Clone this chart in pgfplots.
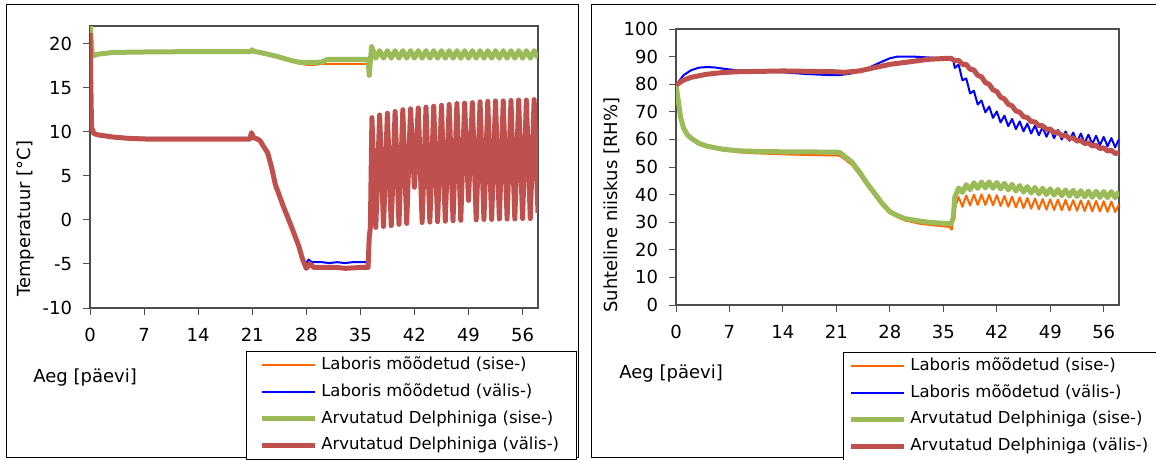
\documentclass[border=0pt]{standalone}
\usepackage{fontspec}
\setmainfont{DejaVu Sans}
\usepackage{pgfplots}
\pgfplotsset{compat=1.18}

\definecolor{measin}{RGB}{255,102,0}
\definecolor{measout}{RGB}{0,0,255}
\definecolor{simin}{RGB}{155,187,89}
\definecolor{simout}{RGB}{192,80,77}
\definecolor{axisgray}{RGB}{77,77,77}

\pgfplotsset{
  panel/.style={
    scale only axis,
    xmin=0, xmax=58,
    xtick={0,7,14,21,28,35,42,49,56},
    xticklabels={0,7,14,21,28,35,42,49,56},
    tick align=outside,
    tick pos=left,
    major tick length=7pt,
    axis line style={draw=axisgray, line width=1.2pt},
    major tick style={draw=axisgray, line width=1pt},
    tick label style={font=\fontsize{18}{22}\selectfont},
    label style={font=\fontsize{18}{22}\selectfont},
    xticklabel shift=10pt,
    yticklabel shift=7.5pt,
    xlabel={Aeg [päevi]},
    xlabel style={at={(axis description cs:-0.011,-0.248)}, anchor=center},
    legend style={anchor=north west, draw=black, line width=0.8pt,
      font=\fontsize{16.5}{19}\selectfont, inner ysep=2.25pt, row sep=3.2pt,
      nodes={inner sep=3.5pt, text height=12.5pt, text depth=4pt},
      cells={anchor=west}},
    legend image code/.code={\draw[#1] (0pt,0pt) -- (53pt,0pt);},
  },
  lin/.style={color=measin, line width=2pt, line join=round},
  lout/.style={color=measout, line width=2pt, line join=round},
  sin/.style={color=simin, line width=5pt, line join=round},
  sout/.style={color=simout, line width=5pt, line join=round},
}

\begin{document}
\begin{tikzpicture}[x=1pt,y=1pt]
\path[use as bounding box] (0,0) rectangle (1156,459);
\clip (0,0) rectangle (1156,459);
\draw[black, line width=1pt] (6,2) rectangle (578,454);
\draw[black, line width=1pt] (591,2) rectangle (1170,454);

% left: temperature
\begin{axis}[panel,
  at={(90pt,151pt)}, anchor=south west, width=448pt, height=282pt,
  ymin=-10, ymax=22,
  ytick={-10,-5,0,5,10,15,20},
  yticklabels={-10,-5,0,5,10,15,20},
  ylabel={Temperatuur [°C]},
  ylabel style={at={(axis description cs:-0.143,0.316)}, anchor=center},
  legend style={at={(axis description cs:0.348,-0.1525)}, inner xsep=13.5pt},
]
\addplot[lin] coordinates {
(0,20.5) (0.3,18.8) (1,18.9) (3,19.0) (7,19.1) (14,19.1) (20.8,19.1) (21,19.25) (21.3,19.1)
(22,19.0) (24,18.6) (26,18.1) (27,17.75) (28,17.6) (29,17.6) (30,17.7) (32,17.7) (34,17.7)
(36,17.7) (36.2,17.6) (36.5,19.0)
(37,18.5) (37.5,19.0) (38,18.5) (38.5,19.0) (39,18.5) (39.5,19.0) (40,18.5) (40.5,19.0)
(41,18.5) (41.5,19.0) (42,18.5) (42.5,19.0) (43,18.5) (43.5,19.0) (44,18.5) (44.5,19.0)
(45,18.5) (45.5,19.0) (46,18.5) (46.5,19.0) (47,18.5) (47.5,19.0) (48,18.5) (48.5,19.0)
(49,18.5) (49.5,19.0) (50,18.5) (50.5,19.0) (51,18.5) (51.5,19.0) (52,18.5) (52.5,19.0)
(53,18.5) (53.5,19.0) (54,18.5) (54.5,19.0) (55,18.5) (55.5,19.0) (56,18.5) (56.5,19.0)
(57,18.5) (57.5,19.0) (58,18.55)
};
\addlegendentry{Laboris mõõdetud (sise-)}
\addplot[lout] coordinates {
(0,12.5) (0.2,10.2) (0.5,9.8) (1,9.7) (3,9.4) (5,9.3) (8,9.3) (14,9.3) (20.7,9.3) (21,9.5)
(21.5,9.3) (22,9.0) (22.5,8.3) (23,7.6) (23.5,6.0) (24,4.0) (25,1.6) (26,-0.6) (27,-2.9)
(27.5,-4.3) (28,-4.9) (28.3,-4.5) (28.7,-4.8) (30,-4.8) (31,-4.9) (32,-4.8) (33,-4.9)
(34,-4.8) (35,-4.8) (36,-4.8) (36.15,-2.0) (36.3,-0.5) (36.5,11.3)
(37,-0.55) (37.5,11.6) (38,-0.45) (38.5,11.8) (39,-0.35) (39.5,12.0) (40,-0.2) (40.5,12.2)
(41,-0.1) (41.5,12.3) (42,3.9) (42.5,12.4) (43,0.0) (43.5,12.5) (44,0.05) (44.5,12.6)
(45,0.1) (45.5,12.7) (46,0.15) (46.5,12.8) (47,0.2) (47.5,12.9) (48,0.25) (48.5,12.95)
(49,2.4) (49.5,13.0) (50,0.3) (50.5,13.1) (51,0.35) (51.5,13.15) (52,0.35) (52.5,13.2)
(53,0.4) (53.5,13.2) (54,0.4) (54.5,13.25) (55,0.4) (55.5,13.3) (56,0.45) (56.5,13.3)
(57,0.45) (57.5,13.35) (58,1.0)
};
\addlegendentry{Laboris mõõdetud (välis-)}
\addplot[sin] coordinates {
(0,22.5) (0.3,18.6) (1,18.8) (3,19.0) (7,19.05) (14,19.1) (20.8,19.1) (21,19.3) (21.3,19.1)
(22,19.0) (24,18.6) (26,18.1) (27,17.9) (28,17.85) (30,17.9) (30.7,18.2) (36,18.2)
(36.15,16.4) (36.45,19.7)
(37,18.35) (37.5,19.2) (38,18.35) (38.5,19.2) (39,18.35) (39.5,19.2) (40,18.35) (40.5,19.2)
(41,18.35) (41.5,19.2) (42,18.35) (42.5,19.2) (43,18.35) (43.5,19.2) (44,18.35) (44.5,19.2)
(45,18.35) (45.5,19.2) (46,18.35) (46.5,19.2) (47,18.35) (47.5,19.2) (48,18.35) (48.5,19.2)
(49,18.35) (49.5,19.2) (50,18.35) (50.5,19.2) (51,18.35) (51.5,19.2) (52,18.35) (52.5,19.2)
(53,18.35) (53.5,19.2) (54,18.35) (54.5,19.2) (55,18.35) (55.5,19.2) (56,18.35) (56.5,19.2)
(57,18.35) (57.5,19.2) (58,18.4)
};
\addlegendentry{Arvutatud Delphiniga (sise-)}
\addplot[sout] coordinates {
(0,21.2) (0.2,10.5) (0.5,9.8) (1,9.65) (3,9.4) (5,9.25) (8,9.15) (14,9.15) (20.7,9.15)
(20.9,9.9) (21.2,9.3) (21.6,9.2) (22,9.0) (22.5,8.3) (23,7.6) (23.5,6.0) (24,4.0) (25,1.6)
(26,-0.6) (27,-2.9) (27.5,-4.4) (28,-5.5) (28.5,-5.0) (29,-5.4) (32,-5.4) (33,-5.5)
(35,-5.4) (36,-5.4) (36.15,-2.0) (36.3,-0.8) (36.5,11.6)
(37,-0.85) (37.5,11.9) (38,-0.75) (38.5,12.1) (39,-0.65) (39.5,12.3) (40,-0.5) (40.5,12.5)
(41,-0.4) (41.5,12.6) (42,3.7) (42.5,12.7) (43,-0.3) (43.5,12.8) (44,-0.25) (44.5,12.9)
(45,-0.2) (45.5,13.0) (46,-0.15) (46.5,13.1) (47,-0.1) (47.5,13.2) (48,-0.05) (48.5,13.25)
(49,2.2) (49.5,13.3) (50,0.0) (50.5,13.4) (51,0.05) (51.5,13.45) (52,0.05) (52.5,13.5)
(53,0.1) (53.5,13.5) (54,0.1) (54.5,13.55) (55,0.1) (55.5,13.6) (56,0.15) (56.5,13.6)
(57,0.15) (57.5,13.65) (58,0.8)
};
\addlegendentry{Arvutatud Delphiniga (välis-)}
\end{axis}

% right: relative humidity
\begin{axis}[panel,
  at={(676pt,154pt)}, anchor=south west, width=443pt, height=276pt,
  ymin=0, ymax=100,
  ytick={0,10,...,100},
  yticklabels={0,10,20,30,40,50,60,70,80,90,100},
  ylabel={Suhteline niiskus [RH\%]},
  ylabel style={at={(axis description cs:-0.1445,0.362)}, anchor=center},
  legend style={at={(axis description cs:0.377,-0.170)}, inner xsep=5.5pt},
]
\addplot[lin] coordinates {
(0,79.7) (0.5,70) (1,63.8) (1.5,61.2) (2,60) (3,58.2) (4,57.2) (6,56.1) (8,55.4) (10,55.0)
(14,54.6) (18,54.3) (21,54.2) (21.5,54.0) (22,53.0) (23,50.8) (24,47.3) (25,43.3) (26,39.6)
(27,36.1) (28,33.2) (29,31.8) (30,30.6) (32,29.4) (34,28.8) (35.8,28.3) (36.1,27.3)
(36.3,33) (36.5,35.0)
(37,39.1) (37.5,35.6) (38,39.7) (38.5,36.05) (39,40.0) (39.5,36.25) (40,40.1) (40.5,36.25)
(41,40.0) (41.5,36.1) (42,39.8) (42.5,35.85) (43,39.5) (43.5,35.6) (44,39.3) (44.5,35.35)
(45,39.0) (45.5,35.1) (46,38.8) (46.5,34.9) (47,38.6) (47.5,34.7) (48,38.4) (48.5,34.55)
(49,38.3) (49.5,34.45) (50,38.2) (50.5,34.35) (51,38.1) (51.5,34.25) (52,38.0) (52.5,34.15)
(53,37.9) (53.5,34.05) (54,37.8) (54.5,33.95) (55,37.7) (55.5,33.85) (56,37.6) (56.5,33.75)
(57,37.5) (57.5,33.7) (58,36.5)
};
\addlegendentry{Laboris mõõdetud (sise-)}
\addplot[lout] coordinates {
(0,79.7) (1,83.3) (2,85.1) (3,86.0) (4,86.2) (5,86.1) (6,85.7) (8,85.0) (10,84.8) (14,84.3)
(17,83.7) (20,83.3) (21.5,83.3) (23,83.9) (25,85.7) (27,88.2) (28,89.4) (29,90.0) (31,90.0)
(33,89.7) (35,89.4) (36,89.4) (36.3,88.8) (36.5,85.9)
(37,87.1) (37.5,81.4) (38,82.1) (38.5,76.65) (39,77.6) (39.5,72.65) (40,74.1) (40.5,69.8)
(41,71.9) (41.5,67.8) (42,70.1) (42.5,66.15) (43,68.6) (43.5,64.8) (44,67.4) (44.5,63.75)
(45,66.5) (45.5,62.9) (46,65.7) (46.5,62.15) (47,65.0) (47.5,61.5) (48,64.4) (48.5,60.95)
(49,63.9) (49.5,60.45) (50,63.4) (50.5,59.95) (51,62.9) (51.5,59.5) (52,62.5) (52.5,59.1)
(53,62.1) (53.5,58.7) (54,61.7) (54.5,58.3) (55,61.3) (55.5,57.9) (56,60.9) (56.5,57.5)
(57,60.5) (57.5,57.1) (58,60.1)
};
\addlegendentry{Laboris mõõdetud (välis-)}
\addplot[sin] coordinates {
(0,79.7) (0.3,74) (0.6,68) (1,64) (1.5,61.6) (2,60.4) (3,58.6) (4,57.6) (6,56.5) (8,55.9)
(10,55.7) (14,55.5) (21,55.4) (21.5,55.2) (22,54) (23,51.9) (24,48.3) (25,44.1) (26,40.5)
(27,36.8) (28,33.8) (29,32.4) (30,31.3) (31.5,30.6) (33,30.0) (35,29.6) (36,29.5)
(36.3,31.5) (36.5,39.0)
(37,42.4) (37.5,40.8) (38,43.6) (38.5,41.75) (39,44.3) (39.5,42.25) (40,44.6) (40.5,42.4)
(41,44.6) (41.5,42.3) (42,44.4) (42.5,42.05) (43,44.1) (43.5,41.7) (44,43.7) (44.5,41.3)
(45,43.3) (45.5,40.9) (46,42.9) (46.5,40.55) (47,42.6) (47.5,40.25) (48,42.3) (48.5,40.0)
(49,42.1) (49.5,39.8) (50,41.9) (50.5,39.6) (51,41.7) (51.5,39.45) (52,41.6) (52.5,39.3)
(53,41.4) (53.5,39.15) (54,41.3) (54.5,39.05) (55,41.2) (55.5,38.95) (56,41.1) (56.5,38.9)
(57,41.1) (57.5,38.9) (58,41.1)
};
\addlegendentry{Arvutatud Delphiniga (sise-)}
\addplot[sout] coordinates {
(0,79.7) (1,81.5) (2,82.5) (4,83.6) (6,84.2) (8,84.5) (14,84.8) (21,84.5) (22,84.3) (24,84.8)
(26,86) (28,87.2) (30,87.9) (33,89) (35,89.3) (36,89.4)
(36.5,88.5) (37,88.65) (37.5,87.2) (38,87.15) (38.5,85.45) (39,85.15) (39.5,83.2) (40,82.65)
(40.5,80.6) (41,79.95) (41.5,77.95) (42,77.35) (42.5,75.3) (43,74.65) (43.5,72.7) (44,72.15)
(44.5,70.3) (45,69.85) (45.5,68.2) (46,67.95) (46.5,66.45) (47,66.35) (47.5,64.95) (48,64.95)
(48.5,63.65) (49,63.75) (49.5,62.45) (50,62.55) (50.5,61.35) (51,61.55) (51.5,60.35) (52,60.55)
(52.5,59.4) (53,59.65) (53.5,58.5) (54,58.75) (54.5,57.6) (55,57.85) (55.5,56.7) (56,56.95)
(56.5,55.8) (57,56.05) (57.5,54.9) (58,55.15)
};
\addlegendentry{Arvutatud Delphiniga (välis-)}
\end{axis}
\end{tikzpicture}
\end{document}
